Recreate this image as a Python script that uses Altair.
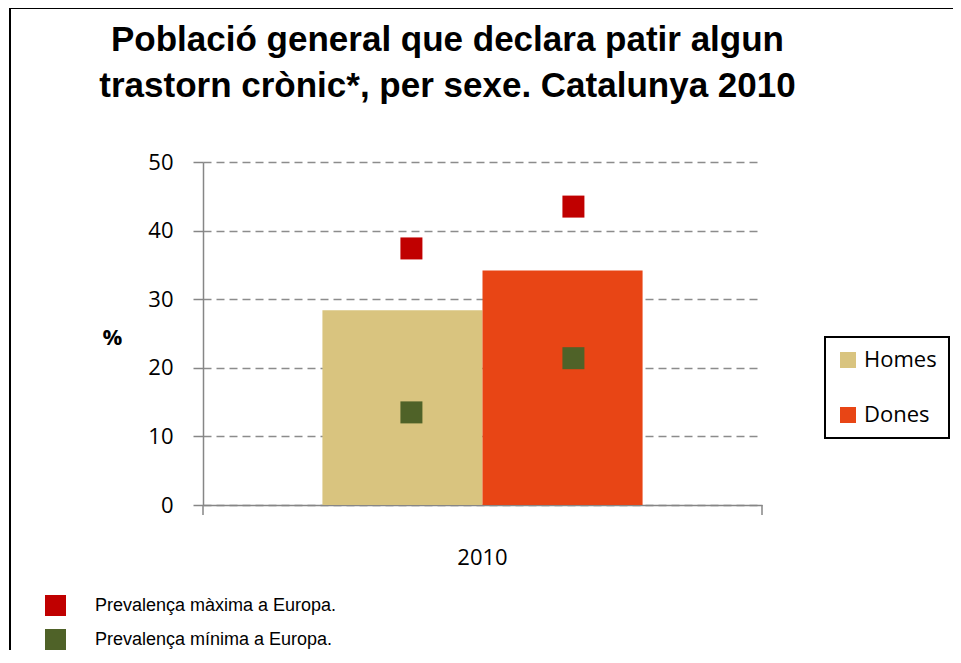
import altair as alt
import pandas as pd

# ---- data ----
year = ["2010"]
sexes = ["Homes", "Dones"]
bar_values = [28.4, 34.2]
prev_types = ["Prevalença màxima a Europa.", "Prevalença mínima a Europa."]
prev_max = [37.4, 43.5]
prev_min = [13.5, 21.4]
y_ticks = [0, 10, 20, 30, 40, 50]

bar_colors = ["#D9C47F", "#E84515"]
prev_colors = ["#C00000", "#4F6228"]

bars_df = pd.DataFrame({"Any": year * len(sexes), "Sexe": sexes, "Valor": bar_values})
pts_df = pd.DataFrame({
    "Any": year * 4,
    "Sexe": sexes + sexes,
    "Tipus": [prev_types[0]] * 2 + [prev_types[1]] * 2,
    "Valor": prev_max + prev_min,
})

W, H = 559, 343
GRAY = "#868686"

x_enc = alt.X(
    "Any:N",
    title=None,
    scale=alt.Scale(paddingOuter=0.373, paddingInner=0),
    axis=alt.Axis(
        labelAngle=0, labelFont="Open Sans", labelFontSize=22, labelColor="black",
        labelPadding=42, ticks=False, domainColor=GRAY, domainWidth=1.5, grid=False,
    ),
)
xoff_enc = alt.XOffset("Sexe:N", sort=sexes, scale=alt.Scale(paddingInner=0, paddingOuter=0))
y_enc = alt.Y(
    "Valor:Q",
    scale=alt.Scale(domain=[0, 50], nice=False),
    axis=alt.Axis(
        values=y_ticks, title="%", titleAngle=0, titleX=-91, titleY=175,
        titleAlign="center", titleBaseline="middle", titleFont="Open Sans",
        titleFontSize=22, titleFontWeight="bold", titleColor="black",
        labelFont="Open Sans", labelFontSize=22, labelColor="black", labelPadding=20,
        tickSize=10, tickColor=GRAY, tickWidth=1.5, domainColor=GRAY, domainWidth=1.5,
        grid=True, gridColor="#8c8c8c", gridDash=[8, 5], gridWidth=1.5,
    ),
)

bars = alt.Chart(bars_df).mark_bar().encode(
    x=x_enc,
    xOffset=xoff_enc,
    y=y_enc,
    color=alt.Color(
        "Sexe:N",
        sort=sexes,
        scale=alt.Scale(domain=sexes, range=bar_colors),
        legend=alt.Legend(
            title=None, orient="none", legendX=622, legendY=175,
            strokeColor="black", padding=12, symbolType="square", symbolSize=256,
            symbolStrokeWidth=0, labelFont="Open Sans", labelFontSize=22,
            labelColor="black", labelOffset=5, rowPadding=33, labelLimit=300,
        ),
    ),
)

points = alt.Chart(pts_df).mark_square(size=484, opacity=1).encode(
    x=alt.X("Any:N"),
    xOffset=alt.XOffset("Sexe:N", sort=sexes,
                        scale=alt.Scale(type="point", range=[89, 251], padding=0)),
    y=alt.Y("Valor:Q"),
    fill=alt.Fill(
        "Tipus:N",
        sort=prev_types,
        scale=alt.Scale(domain=prev_types, range=prev_colors),
        legend=alt.Legend(
            title=None, orient="none", legendX=-158, legendY=433,
            padding=0, symbolType="square", symbolSize=440, symbolStrokeWidth=0,
            symbolOpacity=1, labelFont="Liberation Sans", labelFontSize=18,
            labelColor="black", labelOffset=29, rowPadding=13, labelLimit=500,
        ),
    ),
)

one = pd.DataFrame({"k": [0]})
tick_left = alt.Chart(one).mark_rule(color=GRAY, strokeWidth=1.5).encode(
    x=alt.value(0), y=alt.value(H), y2=alt.value(H + 10))
tick_right = alt.Chart(one).mark_rule(color=GRAY, strokeWidth=1.5).encode(
    x=alt.value(W), y=alt.value(H), y2=alt.value(H + 10))
frame_left = alt.Chart(one).mark_rule(color="black", strokeWidth=2).encode(
    x=alt.value(-193), y=alt.value(-154), y2=alt.value(H + 200))
frame_top = alt.Chart(one).mark_rule(color="black", strokeWidth=2).encode(
    x=alt.value(-193), x2=alt.value(W + 300), y=alt.value(-154))

chart = alt.layer(bars, points, tick_left, tick_right, frame_left, frame_top).properties(
    width=W,
    height=H,
    autosize=alt.AutoSizeParams(type="none"),
    padding={"left": 195, "top": 154, "right": 191, "bottom": 145},
    title=alt.TitleParams(
        ["Població general que declara patir algun",
         "trastorn crònic*, per sexe. Catalunya 2010"],
        font="Liberation Sans", fontSize=35, fontWeight="bold", color="black",
        lineHeight=46, anchor="middle", dx=-35, offset=-132, baseline="bottom",
    ),
).resolve_scale(color="independent", xOffset="independent").configure_view(
    stroke=None).configure_legend(strokeWidth=2)

chart.save("out.html", embed_options={"renderer": "svg", "actions": False})
